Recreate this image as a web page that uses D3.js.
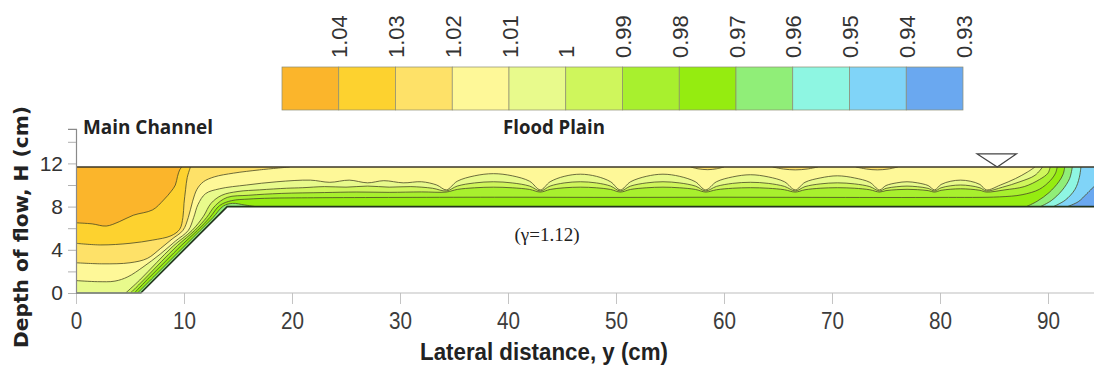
<!DOCTYPE html>
<html><head><meta charset="utf-8">
<script src="https://cdn.jsdelivr.net/npm/d3@7"></script>
<style>
html,body{margin:0;padding:0;background:#fff;}
svg{display:block;}
</style></head><body>
<svg id="chart" width="1094" height="367"></svg>
<script>
// ---------------- data ----------------
const legendLabels = ["1.04","1.03","1.02","1.01","1","0.99","0.98","0.97","0.96","0.95","0.94","0.93"];
const legendLevels = [1.04,1.03,1.02,1.01,1.00,0.99,0.98,0.97,0.96,0.95,0.94,0.93];
const legendColors = ["#FBB52B","#FDD22F","#FEE168","#FEF898","#E8FA8C","#CFF65C","#A8F02E","#95EC10","#90EE78","#8EF6E2","#80D4F8","#6AA8F0"];
const xTicks = [0,10,20,30,40,50,60,70,80,90];
const yTicks = [0,2,4,6,8,10,12,14];
const yLabelled = [0,4,8,12];
const channelBed = [[0,0],[6,0],[14,8],[94.3,8]];
const waterSurface = 11.67;
const waterMarkY = 85.3;

const c104 = [[0,6.5],[1.5,6.4],[2.8,6.2],[4.0,6.6],[5.3,7.2],[7.1,7.7],[8.1,8.6],[8.8,9.4],[9.2,10.0],[9.4,10.8],[9.6,11.4],[9.8,11.67]];
const c103 = [[0,4.6],[2.3,4.45],[5.0,4.6],[7.1,4.9],[8.8,5.3],[9.6,5.9],[9.9,7.0],[10.0,8.3],[10.15,9.6],[10.3,10.7],[10.6,11.67]];
const c102 = [[0,2.8],[2.5,2.7],[5.0,2.8],[6.6,3.2],[7.8,4.1],[8.9,5.0],[9.9,5.8],[10.4,7.0],[10.8,8.5],[11.2,9.6],[11.8,10.3],[12.8,10.75],[14.6,11.1],[17.0,11.4],[19.8,11.67]];
const c102s1 = [[56.9,11.67],[57.6,11.5],[58.5,11.42],[59.3,11.5],[60.0,11.67]];
const c102s2 = [[64.5,11.67],[65.5,11.48],[66.6,11.4],[67.7,11.48],[68.7,11.67]];
const c102s3 = [[72.2,11.67],[73.2,11.48],[74.2,11.4],[75.2,11.48],[76.1,11.67]];
const c101 = [[0,1.15],[2.0,1.05],[3.6,1.1],[4.8,1.5],[6.2,2.4],[7.8,3.6],[9.2,4.8],[10.4,5.8],[10.9,7.0],[11.3,8.2],[12.0,9.2],[13.3,9.65],[15.8,10.0],[18.6,10.3],[21.7,10.45],[23.5,10.25],[25.3,10.45],[27.0,10.2],[28.5,10.4],[30.3,10.2],[32.0,10.3],[33.4,10.0],[34.3,9.55],
  [35.3,10.35],[36.9,10.85],[38.65,11.05],[40.4,10.85],[42.0,10.35],[43.0,9.55],
  [43.9,10.3],[45.2,10.8],[46.7,11.0],[48.2,10.8],[49.5,10.3],[50.4,9.55],
  [51.35,10.3],[52.8,10.8],[54.35,11.0],[55.9,10.8],[57.35,10.3],[58.3,9.55],
  [59.3,10.3],[60.8,10.75],[62.45,10.95],[64.1,10.75],[65.6,10.3],[66.6,9.55],
  [67.5,10.25],[68.9,10.65],[70.5,10.85],[72.1,10.65],[73.5,10.25],[74.4,9.55],
  [75.0,9.95],[76.0,10.2],[76.95,10.3],[77.9,10.2],[78.9,9.95],[79.5,9.55],
  [80.1,10.05],[81.0,10.35],[81.9,10.45],[82.8,10.35],[83.7,10.05],[84.3,9.55],
  [85.6,10.0],[87.0,10.6],[88.1,11.2],[88.8,11.67]];
const c100 = [[4.6,0],[5.9,1.2],[7.45,2.8],[9.0,4.35],[10.75,5.8],[11.8,7.1],[12.5,8.3],[13.5,9.05],[15.0,9.4],[17.0,9.55],[19.5,9.7],[21.0,9.75],[23.0,9.85],[25.0,9.8],[27.0,9.9],[29.0,9.8],[31.0,9.85],[33.0,9.7],[34.3,9.45],
  [35.3,9.9],[36.9,10.19],[38.65,10.3],[40.4,10.19],[42.0,9.9],[43.0,9.45],
  [43.9,9.9],[45.2,10.19],[46.7,10.3],[48.2,10.19],[49.5,9.9],[50.4,9.45],
  [51.35,9.9],[52.8,10.19],[54.35,10.3],[55.9,10.19],[57.35,9.9],[58.3,9.45],
  [59.3,9.87],[60.8,10.15],[62.45,10.25],[64.1,10.15],[65.6,9.87],[66.6,9.45],
  [67.5,9.85],[68.9,10.1],[70.5,10.2],[72.1,10.1],[73.5,9.85],[74.4,9.45],
  [75.0,9.69],[76.0,9.84],[76.95,9.9],[77.9,9.84],[78.9,9.69],[79.5,9.45],
  [80.1,9.74],[81.0,9.93],[81.9,10.0],[82.8,9.93],[83.7,9.74],[84.3,9.45],
  [85.8,9.8],[87.4,10.3],[88.8,10.9],[89.5,11.67]];
const c099 = [[5.05,0],[6.45,1.4],[7.9,2.9],[9.4,4.4],[11.0,5.8],[12.1,7.0],[12.9,8.1],[14.0,8.85],[16.0,9.05],[19.0,9.22],[23.0,9.3],[26.0,9.35],[29.0,9.32],[32.0,9.36],[34.3,9.35],
  [35.3,9.59],[36.9,9.74],[38.65,9.8],[40.4,9.74],[42.0,9.59],[43.0,9.35],
  [43.9,9.59],[45.2,9.74],[46.7,9.8],[48.2,9.74],[49.5,9.59],[50.4,9.35],
  [51.35,9.59],[52.8,9.74],[54.35,9.8],[55.9,9.74],[57.35,9.59],[58.3,9.35],
  [59.3,9.56],[60.8,9.7],[62.45,9.75],[64.1,9.7],[65.6,9.56],[66.6,9.35],
  [67.5,9.56],[68.9,9.7],[70.5,9.75],[72.1,9.7],[73.5,9.56],[74.4,9.35],
  [75.0,9.48],[76.0,9.57],[76.95,9.6],[77.9,9.57],[78.9,9.48],[79.5,9.35],
  [80.1,9.51],[81.0,9.61],[81.9,9.65],[82.8,9.61],[83.7,9.51],[84.3,9.35],
  [86.0,9.55],[87.8,9.85],[89.2,10.5],[90.0,11.1],[90.2,11.67]];
const c098 = [[5.4,0],[6.8,1.45],[8.3,2.95],[9.8,4.45],[11.25,5.8],[12.4,7.0],[13.3,8.1],[14.4,8.55],[16.0,8.7],[18.0,8.78],[22.0,8.82],[30.0,8.85],[40.0,8.87],[50.0,8.85],[60.0,8.87],[70.0,8.85],[80.0,8.85],[85.5,8.9],[87.6,9.1],[89.2,9.6],[90.2,10.4],[90.7,11.1],[90.85,11.67]];
const c097a = [[5.7,0],[7.2,1.5],[8.7,3.0],[10.2,4.5],[11.5,5.8],[12.7,7.0],[13.65,8.05],[14.5,8.3],[15.6,8.15],[16.6,8.0]];
const c097b = [[88.0,8.0],[89.0,8.5],[90.1,9.3],[91.0,10.3],[91.4,11.0],[91.55,11.67]];
const c096 = [[89.3,8.0],[90.3,8.55],[91.3,9.5],[92.0,10.6],[92.25,11.67]];
const c095 = [[90.5,8.0],[91.6,8.6],[92.5,9.6],[92.9,10.7],[93.05,11.67]];
const c094 = [[91.8,8.0],[92.8,8.45],[93.6,9.2],[94.3,9.9]];

const contourSets = [
  {level:0.94, segments:[c094]},
  {level:0.95, segments:[c095]},
  {level:0.96, segments:[c096]},
  {level:0.97, segments:[c097a, c097b]},
  {level:0.98, segments:[c098]},
  {level:0.99, segments:[c099]},
  {level:1.00, segments:[c100]},
  {level:1.01, segments:[c101]},
  {level:1.02, segments:[c102, c102s1, c102s2, c102s3]},
  {level:1.03, segments:[c103]},
  {level:1.04, segments:[c104]}
];

// ---------------- drawing ----------------
const svg = d3.select("#chart");
const XMAX = channelBed[channelBed.length-1][0];
const X = d3.scaleLinear().domain([0, XMAX]).range([76, 76 + XMAX*10.8]);
const Y = d3.scaleLinear().domain([0, 15.2]).range([293, 293 - 15.2*10.8]);
const colorOf = d3.scaleOrdinal().domain(legendLevels).range(legendColors);

const boundary = channelBed.concat([[XMAX, waterSurface],[0, waterSurface]]);
const nB = boundary.length;
const cum = [0];
for (let i=0;i<nB;i++){ const a=boundary[i], b=boundary[(i+1)%nB]; cum.push(cum[i]+Math.hypot(b[0]-a[0],b[1]-a[1])); }
const PER = cum[nB];
const tRef = cum[nB-1];
function paramOf(p){
  let best=Infinity, t=0;
  for (let i=0;i<nB;i++){
    const a=boundary[i], b=boundary[(i+1)%nB];
    const dx=b[0]-a[0], dy=b[1]-a[1], L2=dx*dx+dy*dy;
    let u=((p[0]-a[0])*dx+(p[1]-a[1])*dy)/L2; u=Math.max(0,Math.min(1,u));
    const d=Math.hypot(p[0]-(a[0]+u*dx), p[1]-(a[1]+u*dy));
    if (d<best){best=d; t=cum[i]+u*Math.sqrt(L2);}
  }
  return t;
}
const fwd=(a,b)=>(((b-a)%PER)+PER)%PER;
function arcBetween(te, ts){
  const dir = fwd(te,tRef) < fwd(te,ts) ? -1 : 1;
  const tot = dir>0 ? fwd(te,ts) : fwd(ts,te);
  const v=[];
  for (let i=0;i<nB;i++){
    const dv = dir>0 ? fwd(te,cum[i]) : fwd(cum[i],te);
    if (dv>1e-9 && dv<tot-1e-9) v.push({d:dv,p:boundary[i]});
  }
  v.sort((a,b)=>a.d-b.d);
  return v.map(o=>o.p);
}
const lineGen = d3.line().curve(d3.curveCatmullRom.alpha(0.5)).x(d=>X(d[0])).y(d=>Y(d[1]));
const domainPath = "M" + boundary.map(p=>X(p[0])+","+Y(p[1])).join("L") + "Z";
function pocket(seg){
  const ts=paramOf(seg[0]), te=paramOf(seg[seg.length-1]);
  const arc=arcBetween(te, ts);
  return lineGen(seg) + arc.map(p=>"L"+X(p[0])+","+Y(p[1])).join("") + "Z";
}

const defs = svg.append("defs");
defs.append("clipPath").attr("id","dom").append("path").attr("d", domainPath);

const plot = svg.append("g").attr("clip-path","url(#dom)");
plot.append("path").attr("d", domainPath).attr("fill", colorOf(0.93));
contourSets.forEach(cs=>{
  plot.append("path")
    .attr("d", domainPath + cs.segments.map(pocket).join(""))
    .attr("fill-rule","evenodd")
    .attr("fill", colorOf(cs.level));
});
contourSets.forEach(cs=>{
  cs.segments.forEach(seg=>{
    plot.append("path").attr("d", lineGen(seg)).attr("fill","none")
      .attr("stroke","#4a4a26").attr("stroke-opacity",0.8).attr("stroke-width",1);
  });
});
// channel outline
svg.append("path").attr("d", d3.line().x(d=>X(d[0])).y(d=>Y(d[1]))(channelBed))
  .attr("fill","none").attr("stroke","#22331c").attr("stroke-width",1.6);
svg.append("line").attr("x1",X(0)).attr("x2",X(XMAX)).attr("y1",Y(waterSurface)).attr("y2",Y(waterSurface))
  .attr("stroke","#3b3626").attr("stroke-width",1.6);

// axes
const gx = svg.append("g").attr("transform",`translate(0,${Y(0)})`)
  .call(d3.axisBottom(X).tickValues(xTicks).tickSize(11).tickPadding(9));
gx.select(".domain").remove();
gx.append("line").attr("x1",X(0)).attr("x2",1094).attr("stroke","#bdbdbd").attr("stroke-width",1.2);
gx.selectAll(".tick line").attr("stroke","#c4c4c4");
gx.selectAll(".tick text").attr("fill","#3c3c3c").attr("font-size",23)
  .attr("font-family","'Liberation Sans',Arial,sans-serif")
  .attr("textLength",d=>String(d).length*11.5).attr("lengthAdjust","spacingAndGlyphs");

const gy = svg.append("g").attr("transform",`translate(${X(0)},0)`)
  .call(d3.axisLeft(Y).tickValues(yTicks).tickSize(8).tickPadding(5).tickFormat(d=>yLabelled.includes(d)?d:""));
gy.select(".domain").attr("stroke","#8a8a8a").attr("stroke-width",1.2);
gy.selectAll(".tick line").attr("stroke","#b0b0b0");
gy.selectAll(".tick text").attr("fill","#333").attr("font-size",21)
  .attr("font-family","'Liberation Sans',Arial,sans-serif");

// water surface symbol
const tx = X(waterMarkY), ty = Y(waterSurface);
svg.append("path").attr("d",`M${tx-20},${ty-13}L${tx+19},${ty-13}L${tx},${ty}Z`)
  .attr("fill","#fff").attr("stroke","#444").attr("stroke-width",1.3);

// legend
const barX = d3.scaleLinear().domain([0, legendLevels.length]).range([282, 963]);
const lg = svg.append("g");
lg.selectAll("rect").data(legendLevels).join("rect")
  .attr("x",(d,i)=>barX(i)).attr("y",67).attr("width",(d,i)=>barX(i+1)-barX(i)).attr("height",43)
  .attr("fill",d=>colorOf(d)).attr("stroke","#8c8c70").attr("stroke-width",0.7);
lg.selectAll("text").data(legendLabels).join("text")
  .attr("transform",(d,i)=>`translate(${barX(i+1)+1},58) rotate(-90)`)
  .attr("dominant-baseline","central")
  .attr("font-size",22).attr("fill","#333")
  .attr("font-family","'Liberation Sans',Arial,sans-serif")
  .text(d=>d);

// texts
svg.append("text").attr("x",83).attr("y",134).text("Main Channel")
  .attr("font-family","'Open Sans','Liberation Sans',sans-serif").attr("font-weight","bold")
  .attr("font-size",19).attr("fill","#222").attr("textLength",130).attr("lengthAdjust","spacingAndGlyphs");
svg.append("text").attr("x",503).attr("y",134).text("Flood Plain")
  .attr("font-family","'Open Sans','Liberation Sans',sans-serif").attr("font-weight","bold")
  .attr("font-size",19).attr("fill","#222").attr("textLength",102).attr("lengthAdjust","spacingAndGlyphs");
svg.append("text").attr("x",547).attr("y",241).attr("text-anchor","middle").text("(γ=1.12)")
  .attr("font-family","'Liberation Serif','Times New Roman',serif").attr("font-size",19).attr("fill","#222");
svg.append("text").attr("x",544).attr("y",360).attr("text-anchor","middle").text("Lateral distance, y (cm)")
  .attr("font-family","'Liberation Sans Narrow','Liberation Sans',sans-serif").attr("font-weight","bold")
  .attr("font-size",23).attr("fill","#222").attr("textLength",248).attr("lengthAdjust","spacingAndGlyphs");
svg.append("text").attr("transform","translate(28,227) rotate(-90)").attr("text-anchor","middle")
  .text("Depth of flow, H (cm)")
  .attr("font-family","'DejaVu Sans',sans-serif").attr("font-weight","bold")
  .attr("font-size",20).attr("fill","#222").attr("textLength",242).attr("lengthAdjust","spacingAndGlyphs");
</script>
</body></html>
